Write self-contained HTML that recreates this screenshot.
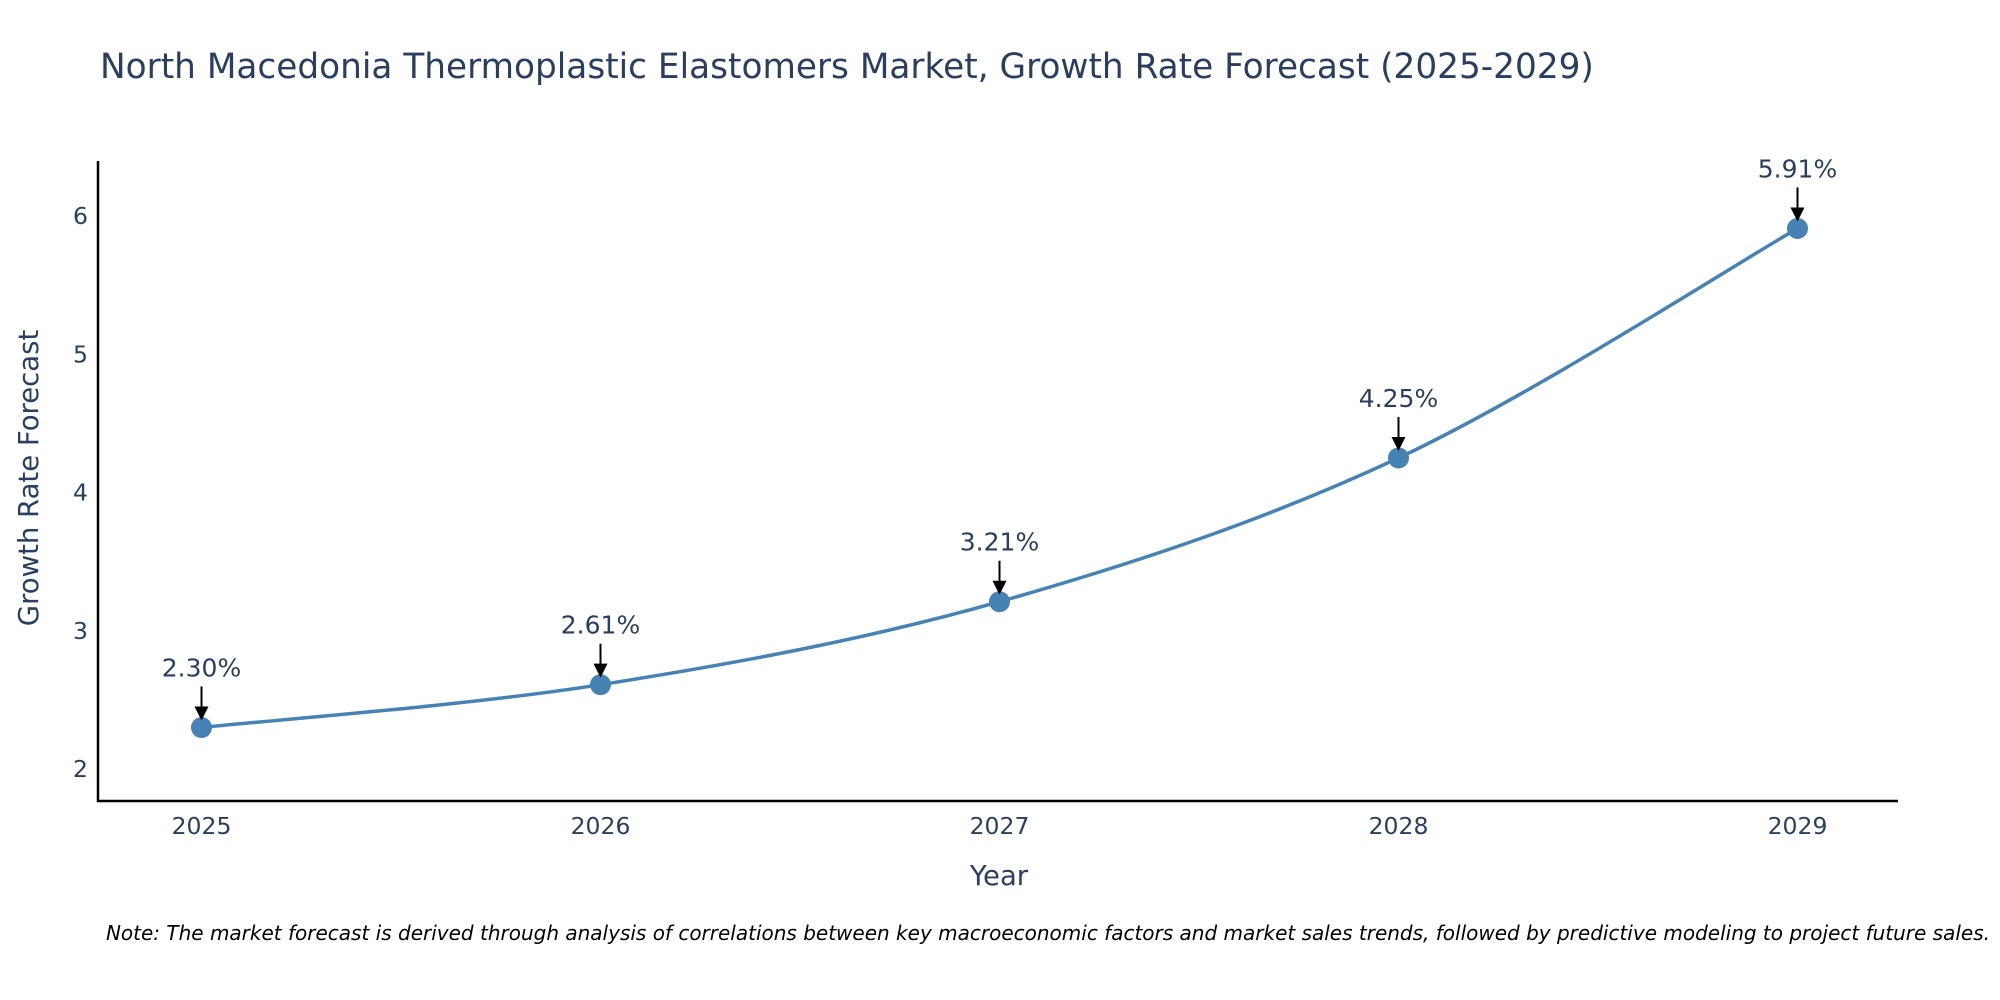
<!DOCTYPE html>
<html><head><meta charset="utf-8"><style>
body{margin:0;background:#fff;}
svg{display:block;font-family:"DejaVu Sans","Liberation Sans",sans-serif;}
</style></head><body>
<svg id="chart" width="2000" height="1000">
<text x="100" y="78" font-size="34.3" fill="#2a3f5f">North Macedonia Thermoplastic Elastomers Market, Growth Rate Forecast (2025-2029)</text>
<g id="yticks"></g><g id="xticks"></g>
<path id="line" fill="none" stroke="#4682b4" stroke-width="3.5"/>
<g id="marks"></g>
<line x1="98" y1="161" x2="98" y2="802" stroke="#000" stroke-width="2.5"/>
<line x1="97" y1="801" x2="1898" y2="801" stroke="#000" stroke-width="2.5"/>
<text x="999" y="885" font-size="27.5" fill="#2a3f5f" text-anchor="middle">Year</text>
<text transform="translate(38,478) rotate(-90)" font-size="27.5" fill="#2a3f5f" text-anchor="middle">Growth Rate Forecast</text>
<text x="1990" y="940" font-size="20" font-style="italic" fill="#000" text-anchor="end">Note: The market forecast is derived through analysis of correlations between key macroeconomic factors and market sales trends, followed by predictive modeling to project future sales.</text>
</svg>
<script>
const years=[2025,2026,2027,2028,2029];
const values=[2.30,2.61,3.21,4.25,5.91];
const labels=["2.30%","2.61%","3.21%","4.25%","5.91%"];
const yTicks=[2,3,4,5,6];
const NS="http://www.w3.org/2000/svg";
function xs(v){return 201.5+(v-2025)*399;}
function ys(v){return 769-(v-2)*138.25;}
function mk(t,a,p){const e=document.createElementNS(NS,t);for(const k in a)e.setAttribute(k,a[k]);p.appendChild(e);return e;}
const yt=document.getElementById('yticks');
yTicks.forEach(v=>{const t=mk('text',{x:88,y:ys(v)+8,'font-size':23.5,fill:'#2a3f5f','text-anchor':'end'},yt);t.textContent=v;

});
const xt=document.getElementById('xticks');
years.forEach(v=>{const t=mk('text',{x:xs(v),y:834,'font-size':23.5,fill:'#2a3f5f','text-anchor':'middle'},xt);t.textContent=v;

});
const P=years.map((y,i)=>[xs(y),ys(values[i])]);
let d="M"+P[0][0]+","+P[0][1];
for(let i=0;i<P.length-1;i++){const p0=P[Math.max(0,i-1)],p1=P[i],p2=P[i+1],p3=P[Math.min(P.length-1,i+2)];const s=1/6;
d+=" C"+(p1[0]+(p2[0]-p0[0])*s)+","+(p1[1]+(p2[1]-p0[1])*s)+" "+(p2[0]-(p3[0]-p1[0])*s)+","+(p2[1]-(p3[1]-p1[1])*s)+" "+p2[0]+","+p2[1];}
document.getElementById('line').setAttribute('d',d);
const g=document.getElementById('marks');
P.forEach((p,i)=>{
const c=mk('circle',{cx:p[0],cy:p[1],r:10.5,fill:'#4682b4'},g);


const l=mk('line',{x1:p[0],y1:p[1]-41,x2:p[0],y2:p[1]-20,stroke:'#000','stroke-width':2},g);


const a=mk('polygon',{points:(p[0]-7)+","+(p[1]-21)+" "+(p[0]+7)+","+(p[1]-21)+" "+p[0]+","+(p[1]-7),fill:'#000'},g);


const t=mk('text',{x:p[0],y:p[1]-51,'font-size':25,fill:'#2a3f5f','text-anchor':'middle'},g);t.textContent=labels[i];


});
</script>
</body></html>
